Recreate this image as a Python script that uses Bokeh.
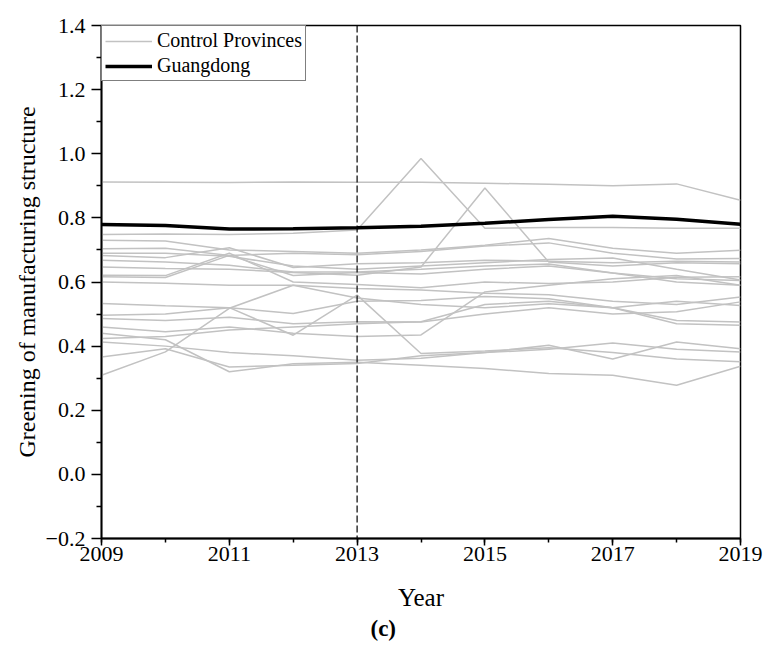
from bokeh.plotting import figure
from bokeh.models import Range1d, FixedTicker, Span, Title
from bokeh.embed import file_html
from bokeh.resources import INLINE

years = [2009, 2010, 2011, 2012, 2013, 2014, 2015, 2016, 2017, 2018, 2019]

guangdong = [0.779, 0.776, 0.765, 0.766, 0.769, 0.774, 0.783, 0.795, 0.805, 0.796, 0.780]

c01 = [0.912, 0.911, 0.910, 0.912, 0.911, 0.911, 0.908, 0.905, 0.900, 0.906, 0.855]
c02 = [0.748, 0.750, 0.748, 0.752, 0.762, 0.985, 0.768, 0.770, 0.770, 0.768, 0.768]
c03 = [0.730, 0.728, 0.700, 0.695, 0.690, 0.700, 0.715, 0.736, 0.705, 0.690, 0.699]
c04 = [0.704, 0.705, 0.683, 0.690, 0.685, 0.695, 0.712, 0.722, 0.690, 0.672, 0.673]
c05 = [0.683, 0.676, 0.707, 0.645, 0.657, 0.660, 0.668, 0.665, 0.660, 0.665, 0.662]
c06 = [0.668, 0.662, 0.652, 0.631, 0.631, 0.640, 0.650, 0.656, 0.628, 0.600, 0.590]
c07 = [0.647, 0.642, 0.640, 0.630, 0.621, 0.647, 0.893, 0.662, 0.650, 0.660, 0.657]
c08 = [0.621, 0.620, 0.690, 0.600, 0.592, 0.582, 0.600, 0.595, 0.600, 0.615, 0.616]
c09 = [0.616, 0.614, 0.683, 0.620, 0.630, 0.625, 0.640, 0.650, 0.628, 0.610, 0.605]
c10 = [0.600, 0.596, 0.590, 0.590, 0.580, 0.575, 0.565, 0.560, 0.540, 0.530, 0.553]
c11 = [0.533, 0.526, 0.520, 0.434, 0.559, 0.377, 0.385, 0.395, 0.380, 0.360, 0.351]
c12 = [0.309, 0.382, 0.518, 0.590, 0.550, 0.530, 0.520, 0.532, 0.520, 0.540, 0.527]
c13 = [0.496, 0.500, 0.520, 0.502, 0.540, 0.542, 0.555, 0.548, 0.520, 0.480, 0.475]
c14 = [0.486, 0.480, 0.490, 0.470, 0.476, 0.475, 0.500, 0.520, 0.500, 0.507, 0.538]
c15 = [0.460, 0.445, 0.460, 0.440, 0.430, 0.435, 0.569, 0.590, 0.610, 0.620, 0.590]
c16 = [0.424, 0.430, 0.450, 0.460, 0.470, 0.476, 0.530, 0.540, 0.520, 0.470, 0.465]
c17 = [0.413, 0.400, 0.380, 0.370, 0.356, 0.362, 0.380, 0.403, 0.360, 0.413, 0.392]
c18 = [0.366, 0.392, 0.335, 0.340, 0.346, 0.370, 0.380, 0.390, 0.410, 0.390, 0.382]
c19 = [0.440, 0.420, 0.320, 0.345, 0.350, 0.340, 0.330, 0.315, 0.309, 0.278, 0.337]
c20 = [0.690, 0.690, 0.680, 0.650, 0.640, 0.650, 0.660, 0.670, 0.675, 0.640, 0.606]

x_ticks = [2009, 2011, 2013, 2015, 2017, 2019]
y_ticks = [-0.2, 0.0, 0.2, 0.4, 0.6, 0.8, 1.0, 1.2, 1.4]
y_tick_labels = ["\u22120.2", "0.0", "0.2", "0.4", "0.6", "0.8", "1.0", "1.2", "1.4"]
policy_year = 2013

controls = [c01, c02, c03, c04, c05, c06, c07, c08, c09, c10,
            c11, c12, c13, c14, c15, c16, c17, c18, c19, c20]

FONT = "Liberation Serif"

p = figure(width=763, height=652, output_backend="svg", toolbar_location=None,
           x_range=Range1d(2009, 2019), y_range=Range1d(-0.2, 1.4),
           min_border_left=101, min_border_right=23, min_border_top=25,
           min_border_bottom=114)
p.grid.visible = False
p.outline_line_color = "black"
p.outline_line_width = 1.5
p.background_fill_color = "white"
p.border_fill_color = "white"

p.multi_line(xs=[years] * len(controls), ys=controls, line_color="#c2c2c2",
             line_width=1.5, legend_label="Control Provinces")
p.line(years, guangdong, line_color="black", line_width=3.5, legend_label="Guangdong")

p.add_layout(Span(location=policy_year, dimension="height", line_color="black",
                  line_width=1.2, line_dash="7 3"))

for ax in (p.xaxis[0], p.yaxis[0]):
    ax.axis_line_width = 1.8
    ax.axis_line_color = "black"
    ax.major_tick_line_width = 1.5
    ax.minor_tick_line_width = 1.5
    ax.major_tick_in = 0
    ax.minor_tick_in = 0
    ax.major_label_text_font = FONT
    ax.major_label_text_font_size = "22px"
    ax.major_label_text_color = "black"
    ax.axis_label_text_font = FONT
    ax.axis_label_text_font_style = "normal"
    ax.axis_label_text_color = "black"

p.xaxis.ticker = FixedTicker(ticks=x_ticks, minor_ticks=years)
p.xaxis.axis_label = "Year"
p.xaxis.axis_label_text_font_size = "25px"
p.xaxis.major_tick_out = 7
p.xaxis.minor_tick_out = 4
p.xaxis.major_label_standoff = 1
p.xaxis.axis_label_standoff = 20

p.yaxis.ticker = FixedTicker(ticks=y_ticks,
                             minor_ticks=[round(-0.1 + 0.2 * i, 1) for i in range(8)])
p.yaxis.major_label_overrides = {t: s for t, s in zip(y_ticks, y_tick_labels)}
p.yaxis.axis_label = "Greening of manufacturing structure"
p.yaxis.axis_label_text_font_size = "24px"
p.yaxis.major_tick_out = 10
p.yaxis.minor_tick_out = 5
p.yaxis.major_label_standoff = 6
p.yaxis.axis_label_standoff = 3

lg = p.legend[0]
lg.location = "top_left"
lg.margin = 0
lg.padding = 3
lg.spacing = 2
lg.glyph_width = 47
lg.glyph_height = 22
lg.label_height = 22
lg.label_standoff = 5
lg.label_text_font = FONT
lg.label_text_font_size = "20px"
lg.label_text_color = "black"
lg.border_line_color = "black"
lg.border_line_width = 1.2
lg.background_fill_alpha = 1.0

caption = Title(text="(c)", align="left", offset=269, standoff=0,
                text_font=FONT, text_font_size="23px", text_font_style="bold",
                text_color="black")
p.add_layout(caption, "below")

open("out.html", "w").write(file_html(p, INLINE))
